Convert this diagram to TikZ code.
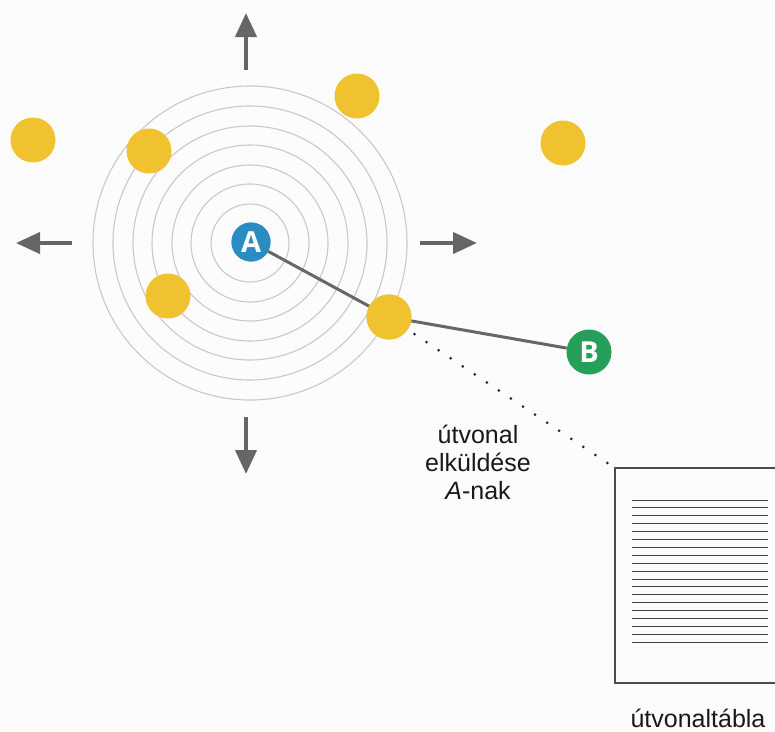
\documentclass[tikz,border=0pt]{standalone}
\usepackage{fontspec}
\setmainfont{Liberation Sans}
\newfontfamily\nodefont{Open Sans}
\usetikzlibrary{arrows.meta}

\definecolor{ringgray}{HTML}{C9C9C9}
\definecolor{arrowgray}{HTML}{666666}
\definecolor{linkgray}{HTML}{676767}
\definecolor{nodeyellow}{HTML}{F1C22F}
\definecolor{nodeblue}{HTML}{2B8CC2}
\definecolor{nodegreen}{HTML}{259F5A}
\definecolor{bggray}{HTML}{FCFCFC}

\tikzset{
  ring/.style={draw=ringgray, line width=1.1pt},
  dirarrow/.style={draw=arrowgray, line width=4pt,
    -{Triangle[length=24pt,width=21pt]}},
  peer/.style={circle, fill=nodeyellow, minimum size=45pt, inner sep=0pt},
  endpoint/.style={circle, minimum size=#1, inner sep=0pt,
    text=white, font=\nodefont\bfseries\fontsize{29}{29}\selectfont},
  link/.style={draw=linkgray, line width=3pt},
  dotline/.style={draw=black!85, line width=3pt, line cap=round,
    dash pattern=on 0pt off 14.5pt},
  lbl/.style={font=\fontsize{25}{28}\selectfont, text=black!90, inner sep=0pt},
  tableframe/.style={draw=black!70, line width=1.3pt},
  tablerow/.style={draw=black!75, line width=1pt}
}

\begin{document}
\begin{tikzpicture}[x=1pt,y=-1pt]
  % canvas
  \clip (0,0) rectangle (775,731);
  \fill[bggray] (0,0) rectangle (775,731);

  % concentric broadcast rings around A
  \foreach \r in {39,59,78,98,117,137,157}
    \draw[ring] (250,243) circle[radius=\r pt];

  % broadcast direction arrows
  \coordinate (upS) at (246,70);   \coordinate (upE) at (246,13);
  \coordinate (dnS) at (246,417);  \coordinate (dnE) at (246,474);
  \coordinate (ltS) at (72,243);   \coordinate (ltE) at (16,243);
  \coordinate (rtS) at (420,243);  \coordinate (rtE) at (477,243);
  \draw[dirarrow] (upS) -- (upE);
  \draw[dirarrow] (dnS) -- (dnE);
  \draw[dirarrow] (ltS) -- (ltE);
  \draw[dirarrow] (rtS) -- (rtE);

  % neighbouring nodes
  \node[peer] (p1) at (33,140) {};
  \node[peer] (p2) at (149,151) {};
  \node[peer] (p3) at (357,96) {};
  \node[peer] (p4) at (563,143) {};
  \node[peer] (p5) at (168,296) {};
  \node[peer] (p6) at (389,317) {};

  % source and destination
  \node[endpoint=39pt, fill=nodeblue] (A) at (251,242) {A};
  \node[endpoint=45pt, fill=nodegreen] (B) at (589,352) {B};

  % discovered route
  \draw[link] (A) -- (p6);
  \draw[link] (p6) -- (B);
  \node[endpoint=39pt, fill=nodeblue] at (A) {A};
  \node[peer] at (p6) {};

  % routing table
  \coordinate (tbl) at (615,468);
  \draw[tableframe] (790,468) -- (tbl) -- (615,683) -- (790,683);
  \foreach \i in {0,...,18}
    \draw[tablerow] (632,{500+7.9*\i}) -- (768,{500+7.9*\i});
  \draw[dotline, shorten <=8pt] (p6) -- (tbl);

  % labels
  \node[lbl, anchor=base] (m1) at (478,443) {útvonal};
  \node[lbl, anchor=base] (m2) at (478,471) {elküldése};
  \node[lbl, anchor=base] (m3) at (478,499) {\textit{A}-nak};
  \node[lbl, anchor=base] (tt) at (698,727) {útvonaltábla};
\end{tikzpicture}
\end{document}
